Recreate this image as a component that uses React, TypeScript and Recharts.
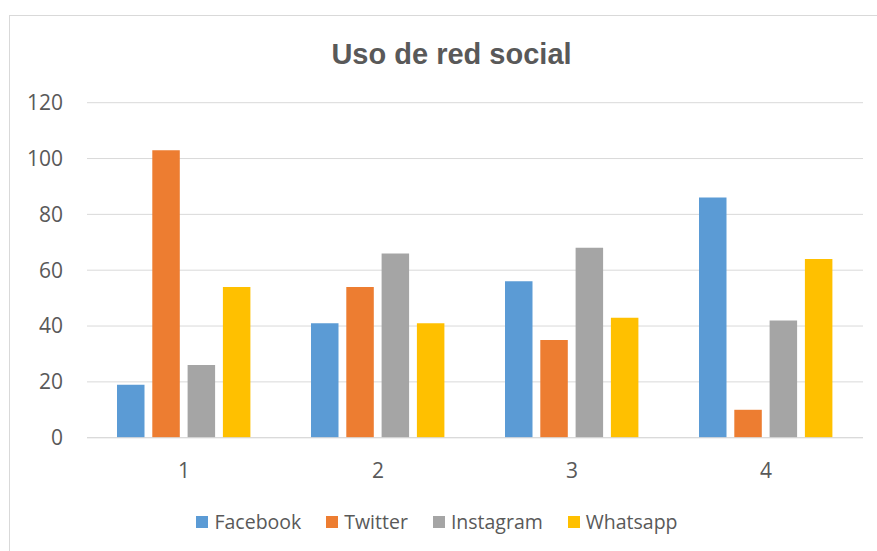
import React from 'react';
import { BarChart, Bar, XAxis, YAxis, CartesianGrid } from 'recharts';

const categories = ['1', '2', '3', '4'];
const facebook = [19, 41, 56, 86];
const twitter = [103, 54, 35, 10];
const instagram = [26, 66, 68, 42];
const whatsapp = [54, 41, 43, 64];
const yTicks = [0, 20, 40, 60, 80, 100, 120];
const seriesNames = ['Facebook', 'Twitter', 'Instagram', 'Whatsapp'];
const seriesColors = ['#5B9BD5', '#ED7D31', '#A5A5A5', '#FFC000'];
const title = 'Uso de red social';

const seriesValues = [facebook, twitter, instagram, whatsapp];
const data = categories.map((c, i) => {
  const row: Record<string, string | number> = { name: c };
  seriesNames.forEach((s, k) => {
    row[s] = seriesValues[k][i];
  });
  return row;
});

const FONT = '"Open Sans", "Noto Sans", sans-serif';
const TEXT = '#595959';

export default function App() {
  return (
    <div style={{ position: 'absolute', left: 0, top: 0, width: 877, height: 551, overflow: 'hidden', background: '#fff' }}>
      <div style={{ position: 'absolute', left: 9, top: 15, width: 1000, height: 1000, border: '1px solid #d9d9d9', boxSizing: 'border-box' }} />
      <svg style={{ position: 'absolute', left: 0, top: 0 }} width={877} height={100}>
        <text x={451.5} y={64.3} textAnchor="middle" fontFamily='"Liberation Sans", Arial, sans-serif' fontWeight="bold" fontSize={29} fill={TEXT}>
          {title}
        </text>
      </svg>
      <div style={{ position: 'absolute', left: 0, top: 0 }}>
        <BarChart
          width={877}
          height={551}
          data={data}
          margin={{ top: 102.7, right: 14, bottom: 83.3, left: 0 }}
          barSize={27.5}
          barGap={7.8}
        >
          <CartesianGrid vertical={false} stroke="#d9d9d9" strokeWidth={1} />
          <XAxis
            dataKey="name"
            height={30}
            axisLine={{ stroke: '#d9d9d9' }}
            tickLine={false}
            tickSize={0}
            tickMargin={25}
            tick={{ fill: TEXT, fontSize: 21, fontFamily: FONT }}
          />
          <YAxis
            width={87}
            domain={[0, 120]}
            ticks={yTicks}
            axisLine={false}
            tickLine={false}
            tickSize={0}
            tickMargin={24}
            tick={{ fill: TEXT, fontSize: 21, fontFamily: FONT }}
          />
          {seriesNames.map((s, k) => (
            <Bar key={s} dataKey={s} fill={seriesColors[k]} isAnimationActive={false} />
          ))}
        </BarChart>
      </div>
      <div
        style={{
          position: 'absolute',
          left: 0,
          top: 508,
          width: 874,
          display: 'flex',
          justifyContent: 'center',
          gap: 25,
          fontFamily: FONT,
          fontSize: 19.5,
          color: TEXT,
          lineHeight: '28px',
        }}
      >
        {seriesNames.map((s, k) => (
          <div key={s} style={{ display: 'flex', alignItems: 'center' }}>
            <span style={{ display: 'inline-block', width: 12, height: 12, background: seriesColors[k], marginRight: 6 }} />
            <span>{s}</span>
          </div>
        ))}
      </div>
    </div>
  );
}
